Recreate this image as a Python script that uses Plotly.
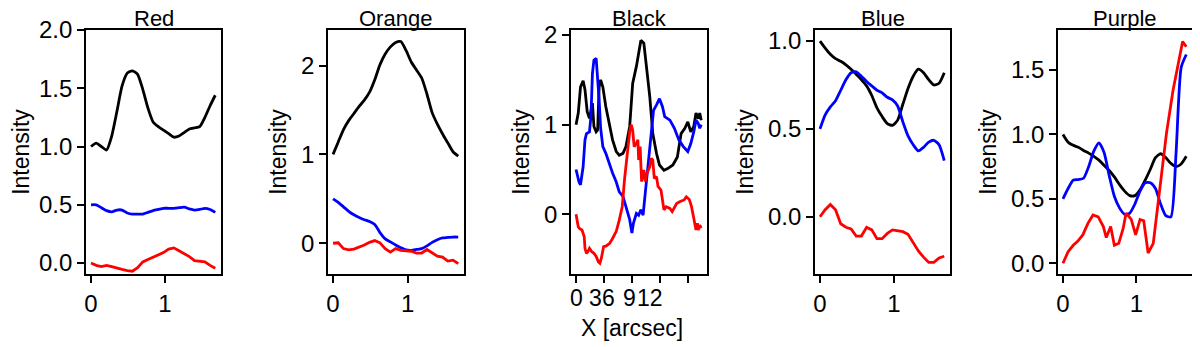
import plotly.graph_objects as go

# ---------------------------
#  Data
# ---------------------------

panels = ["Red", "Orange", "Black", "Blue", "Purple"]

# common x grid (arcsec) for the smooth panels
x_grid = [0.00, 0.07, 0.14, 0.21, 0.28, 0.35, 0.42, 0.49, 0.56, 0.63, 0.70, 0.77,
          0.84, 0.91, 0.98, 1.05, 1.12, 1.19, 1.26, 1.33, 1.40, 1.47, 1.54, 1.61, 1.68]

red_black = [1.00, 1.03, 1.00, 0.97, 1.09, 1.30, 1.52, 1.63, 1.65, 1.62, 1.49, 1.33,
             1.21, 1.17, 1.14, 1.11, 1.08, 1.09, 1.12, 1.15, 1.16, 1.17, 1.25, 1.35, 1.44]
red_blue = [0.50, 0.50, 0.475, 0.45, 0.44, 0.455, 0.455, 0.43, 0.42, 0.42, 0.42, 0.435,
            0.45, 0.46, 0.47, 0.47, 0.47, 0.475, 0.48, 0.465, 0.455, 0.46, 0.47, 0.46, 0.435]
red_red = [0.00, -0.02, -0.03, -0.02, -0.03, -0.045, -0.055, -0.065, -0.07, -0.04, 0.01, 0.03,
           0.05, 0.07, 0.09, 0.12, 0.13, 0.105, 0.08, 0.055, 0.02, 0.015, 0.01, -0.02, -0.045]

orange_black = [1.00, 1.14, 1.28, 1.38, 1.46, 1.54, 1.61, 1.70, 1.84, 2.01, 2.13, 2.21,
                2.26, 2.27, 2.17, 2.04, 1.95, 1.86, 1.68, 1.47, 1.34, 1.23, 1.13, 1.03, 0.98]
orange_blue = [0.50, 0.46, 0.41, 0.36, 0.32, 0.29, 0.265, 0.245, 0.21, 0.12, 0.05, 0.015,
               -0.02, -0.05, -0.075, -0.08, -0.07, -0.06, -0.03, 0.01, 0.04, 0.06, 0.065, 0.07, 0.07]
orange_red = [0.00, 0.005, -0.06, -0.075, -0.065, -0.045, -0.02, 0.01, 0.03, 0.005, -0.06, -0.10,
              -0.06, -0.08, -0.085, -0.09, -0.11, -0.11, -0.07, -0.11, -0.145, -0.155, -0.20, -0.19, -0.23]

blue_black = [1.00, 0.96, 0.925, 0.90, 0.885, 0.865, 0.84, 0.81, 0.78, 0.745, 0.69, 0.62,
              0.57, 0.53, 0.52, 0.55, 0.64, 0.73, 0.80, 0.84, 0.82, 0.78, 0.75, 0.76, 0.82]
blue_blue = [0.50, 0.58, 0.625, 0.66, 0.72, 0.78, 0.82, 0.825, 0.80, 0.77, 0.745, 0.72,
             0.705, 0.68, 0.665, 0.63, 0.54, 0.46, 0.41, 0.375, 0.395, 0.425, 0.435, 0.41, 0.32]
blue_red = [0.00, 0.04, 0.07, 0.04, -0.04, -0.06, -0.07, -0.11, -0.11, -0.06, -0.075, -0.125,
            -0.125, -0.095, -0.075, -0.08, -0.085, -0.10, -0.145, -0.195, -0.23, -0.26, -0.26, -0.235, -0.225]

purple_black = [1.00, 0.94, 0.915, 0.90, 0.875, 0.855, 0.83, 0.80, 0.76, 0.72, 0.67, 0.61,
                0.56, 0.525, 0.525, 0.57, 0.645, 0.73, 0.82, 0.85, 0.82, 0.775, 0.75, 0.77, 0.83]
purple_blue = [0.50, 0.58, 0.645, 0.65, 0.66, 0.75, 0.87, 0.935, 0.86, 0.68, 0.52, 0.43,
               0.38, 0.39, 0.46, 0.56, 0.625, 0.625, 0.58, 0.46, 0.37, 0.36, 0.85, 1.52, 1.62]
purple_red_x = [0.00, 0.07, 0.14, 0.20, 0.27, 0.34, 0.41, 0.48, 0.55, 0.59, 0.65, 0.70, 0.76,
                0.82, 0.86, 0.93, 0.99, 1.05, 1.10, 1.16, 1.23, 1.32, 1.41, 1.50, 1.57, 1.63, 1.68]
purple_red = [0.00, 0.09, 0.14, 0.17, 0.22, 0.31, 0.375, 0.36, 0.285, 0.20, 0.285, 0.14, 0.155,
              0.27, 0.39, 0.34, 0.22, 0.34, 0.33, 0.08, 0.155, 0.595, 1.01, 1.345, 1.55, 1.72, 1.68]

# Black panel: noisy profiles
black_black_x = [0.00, 0.03, 0.06, 0.095, 0.12, 0.15, 0.18, 0.20, 0.22, 0.24, 0.27, 0.29, 0.31,
                 0.33, 0.36, 0.40, 0.45, 0.49, 0.54, 0.58, 0.63, 0.67, 0.72, 0.76, 0.81, 0.84,
                 0.87, 0.91, 0.94, 0.99, 1.03, 1.08, 1.12, 1.18, 1.23, 1.30, 1.36, 1.41, 1.46,
                 1.50, 1.54, 1.58, 1.61, 1.64, 1.66, 1.68]
black_black = [1.00, 1.13, 1.42, 1.49, 1.39, 1.145, 1.07, 1.16, 1.24, 0.98, 0.92, 0.94, 1.42,
               1.50, 1.42, 1.20, 1.00, 0.83, 0.70, 0.66, 0.68, 0.755, 0.98, 1.46, 1.65, 1.81,
               1.94, 1.91, 1.68, 1.31, 0.90, 0.68, 0.55, 0.49, 0.51, 0.55, 0.64, 0.90, 0.96,
               1.03, 0.92, 0.98, 1.13, 1.07, 1.13, 1.05]
black_blue_x = [0.00, 0.04, 0.06, 0.095, 0.12, 0.14, 0.18, 0.20, 0.22, 0.24, 0.27, 0.29, 0.31,
                0.33, 0.36, 0.40, 0.45, 0.49, 0.54, 0.58, 0.63, 0.67, 0.72, 0.75, 0.77, 0.81,
                0.84, 0.87, 0.90, 0.92, 0.96, 1.01, 1.04, 1.08, 1.12, 1.16, 1.19, 1.26, 1.32,
                1.38, 1.44, 1.50, 1.54, 1.58, 1.61, 1.64, 1.66, 1.68]
black_blue = [0.50, 0.36, 0.33, 0.53, 0.83, 0.90, 0.92, 1.09, 1.57, 1.72, 1.74, 1.535, 1.275,
              0.96, 0.755, 0.68, 0.55, 0.46, 0.36, 0.25, 0.20, 0.085, -0.06, -0.21, -0.10, 0.01,
              -0.01, 0.05, -0.01, 0.16, 0.495, 0.98, 1.16, 1.22, 1.29, 1.20, 1.09, 1.05, 0.96,
              0.83, 0.755, 0.70, 0.79, 0.92, 1.05, 1.015, 0.96, 1.00]
black_red_x = [0.00, 0.03, 0.05, 0.08, 0.11, 0.12, 0.14, 0.16, 0.18, 0.21, 0.24, 0.27, 0.30,
               0.32, 0.34, 0.37, 0.40, 0.45, 0.49, 0.54, 0.58, 0.62, 0.65, 0.68, 0.72, 0.74,
               0.76, 0.78, 0.81, 0.83, 0.84, 0.86, 0.88, 0.91, 0.93, 0.95, 0.99, 1.01, 1.03,
               1.05, 1.08, 1.10, 1.14, 1.18, 1.21, 1.26, 1.29, 1.35, 1.39, 1.45, 1.48, 1.52,
               1.55, 1.58, 1.61, 1.63, 1.64, 1.66, 1.68]
black_red = [0.00, -0.14, -0.16, -0.175, -0.25, -0.38, -0.435, -0.415, -0.38, -0.415, -0.435,
             -0.47, -0.53, -0.545, -0.49, -0.36, -0.355, -0.325, -0.27, -0.19, -0.065, 0.085,
             0.385, 0.645, 0.92, 1.00, 0.94, 0.755, 0.79, 0.83, 0.605, 0.755, 0.365, 0.495,
             0.365, 0.455, 0.53, 0.625, 0.605, 0.40, 0.42, 0.31, 0.27, 0.05, 0.085, 0.065, 0.03,
             0.12, 0.14, 0.16, 0.195, 0.165, 0.085, -0.045, -0.175, -0.10, -0.175, -0.12, -0.155]

# Black panel: tick marks and their (misplaced) labels
black_tick_pos = [0.0, 0.374, 0.748, 1.122, 1.496]
black_label_pos = [0.0, 0.257, 0.432, 0.716, 0.986]
black_label_text = ["0", "3", "6", "9", "12"]

series = [
    [(x_grid, red_black), (x_grid, red_blue), (x_grid, red_red)],
    [(x_grid, orange_black), (x_grid, orange_blue), (x_grid, orange_red)],
    [(black_black_x, black_black), (black_blue_x, black_blue), (black_red_x, black_red)],
    [(x_grid, blue_black), (x_grid, blue_blue), (x_grid, blue_red)],
    [(x_grid, purple_black), (x_grid, purple_blue), (purple_red_x, purple_red)],
]

# ------------------
#  Layout settings
# ------------------

# the page body keeps an 8px margin, so the figure is 8px smaller and
# every pixel position below is measured on the full 1200x347 window
OFF = 8
W, H = 1200 - OFF, 347 - OFF


def px_x(p):
    return (p - OFF) / W


def px_y(p):
    return 1 - (p - OFF) / H


colors = ["#000000", "#0000ff", "#ff0000"]
frames_px = [(86, 221), (328, 464), (571, 707), (815, 950), (1058, 1192)]
top_px, bottom_px = 30, 274
y_ranges = [[-0.094, 2.0], [-0.346, 2.40], [-0.666, 2.056], [-0.326, 1.063], [-0.083, 1.81]]
y_dticks = [0.5, 1, 1, 0.5, 0.5]
y_formats = [".1f", "d", "d", ".1f", ".1f"]
y_standoff = [14, 8, 8, 8, 8]
x_range = [-0.0676, 1.7576]
FONT = "Liberation Sans, Arial, sans-serif"
TICK_SIZE = 24
TITLE_SIZE = 23

fig = go.Figure()
annotations = []

for i, name in enumerate(panels):
    n = "" if i == 0 else str(i + 1)
    for (xs, ys), col in zip(series[i], colors):
        smooth = i != 2 and col != "#ff0000"
        fig.add_trace(
            go.Scatter(
                x = xs, y = ys,
                mode = "lines",
                line = dict(color = col, width = 2.8,
                            shape = "spline" if smooth else "linear",
                            smoothing = 0.6),
                showlegend = False,
                xaxis = "x" + n, yaxis = "y" + n,
            )
        )

    x0, x1 = frames_px[i]
    axis_common = dict(
        showline = True, mirror = True, linecolor = "black", linewidth = 1.6,
        ticks = "outside", ticklen = 7, tickwidth = 1.6, tickcolor = "black",
        showgrid = False, zeroline = False, automargin = False,
        tickfont = dict(family = FONT, size = TICK_SIZE, color = "black"),
    )
    xaxis = dict(
        axis_common,
        domain = [px_x(x0), px_x(x1)],
        range = x_range,
        anchor = "y" + n,
        tickvals = black_tick_pos if i == 2 else [0, 1],
        showticklabels = i != 2,
    )
    yaxis = dict(
        axis_common,
        domain = [px_y(bottom_px), px_y(top_px)],
        range = y_ranges[i],
        anchor = "x" + n,
        dtick = y_dticks[i], tick0 = 0,
        tickformat = y_formats[i],
        title = dict(text = "Intensity", standoff = y_standoff[i],
                     font = dict(family = FONT, size = TITLE_SIZE, color = "black")),
    )
    fig.update_layout({"xaxis" + n: xaxis, "yaxis" + n: yaxis})

    # panel title above the frame
    annotations.append(dict(
        text = name, xref = "paper", yref = "paper",
        x = px_x((x0 + x1) / 2), y = px_y(18.5),
        xanchor = "center", yanchor = "middle", showarrow = False,
        font = dict(family = FONT, size = 22, color = "black"),
    ))

# tick labels of the Black panel
for pos, txt in zip(black_label_pos, black_label_text):
    annotations.append(dict(
        text = txt, xref = "x3", yref = "paper",
        x = pos, y = px_y(298),
        xanchor = "center", yanchor = "middle", showarrow = False,
        font = dict(family = FONT, size = 23, color = "black"),
    ))

annotations.append(dict(
    text = "X [arcsec]", xref = "paper", yref = "paper",
    x = px_x(632), y = px_y(328),
    xanchor = "center", yanchor = "middle", showarrow = False,
    font = dict(family = FONT, size = TITLE_SIZE, color = "black"),
))

fig.update_layout(
    width = W, height = H,
    margin = dict(l = 0, r = 0, t = 0, b = 0),
    paper_bgcolor = "white", plot_bgcolor = "white",
    annotations = annotations,
    font = dict(family = FONT, color = "black"),
)

fig.write_html("out.html")
